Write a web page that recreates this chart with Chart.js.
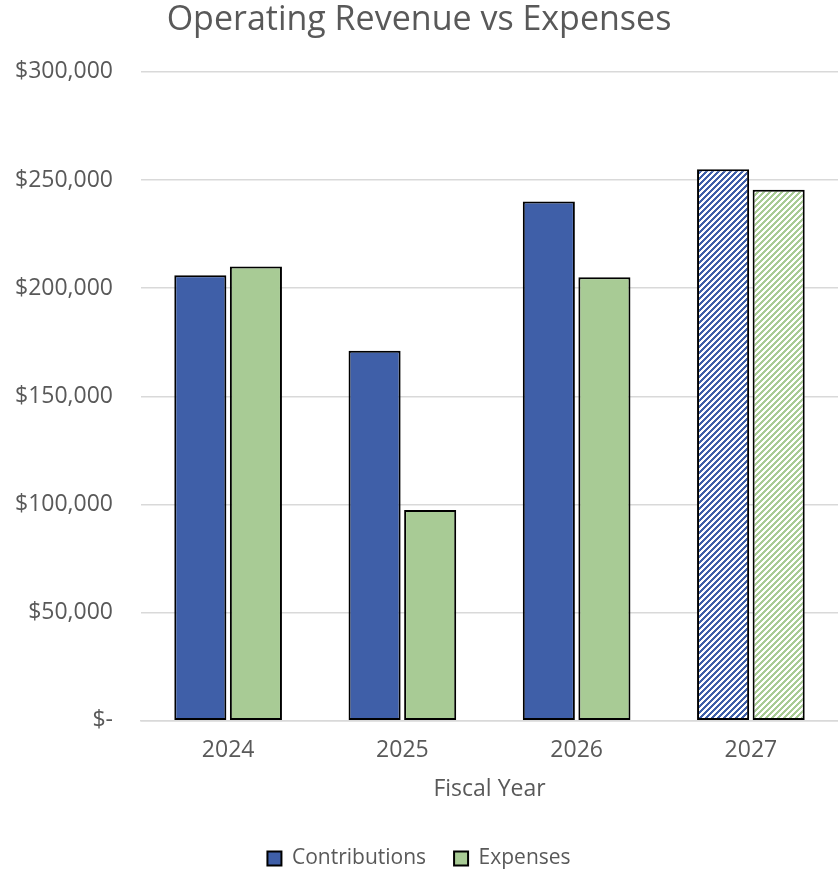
<!DOCTYPE html>
<html>
<head>
<meta charset="utf-8">
<script src="https://cdn.jsdelivr.net/npm/chart.js@4.4.1/dist/chart.umd.min.js"></script>
<style>
html,body{margin:0;padding:0;background:#fff;}
#wrap{width:838px;height:871px;position:relative;}
</style>
</head>
<body>
<div id="wrap"><canvas id="c"></canvas></div>
<script>
const categories = ["2024", "2025", "2026", "2027"];
const contributions = [206000, 171000, 240000, 255000];
const expenses = [210000, 97500, 205000, 245500];
const forecastIndex = 3;
const yTicks = [0, 50000, 100000, 150000, 200000, 250000, 300000];

const BLUE = "#3F5FA8";
const GREEN = "#A8CB95";

function hatch(color) {
  const c = document.createElement("canvas");
  c.width = 6; c.height = 6;
  const g = c.getContext("2d");
  g.fillStyle = "#fff";
  g.fillRect(0, 0, 6, 6);
  g.fillStyle = color;
  for (let x = 0; x < 6; x++) for (let y = 0; y < 6; y++) {
    if ((x + y) % 6 < 3) g.fillRect(x, y, 1, 1);
  }
  return g.createPattern(c, "repeat");
}

const blueFill = categories.map((_, i) => i === forecastIndex ? hatch(BLUE) : BLUE);
const greenFill = categories.map((_, i) => i === forecastIndex ? hatch(GREEN) : GREEN);

const FONT = "'Open Sans', 'Liberation Sans', sans-serif";
const GRAY = "#595959";

new Chart(document.getElementById("c"), {
  type: "bar",
  data: {
    labels: categories,
    datasets: [
      { label: "Contributions", data: contributions, backgroundColor: blueFill, borderColor: "#000", borderWidth: 2, borderSkipped: false,
        categoryPercentage: 0.638, barPercentage: 0.937 },
      { label: "Expenses", data: expenses, backgroundColor: greenFill, borderColor: "#000", borderWidth: 2, borderSkipped: false,
        categoryPercentage: 0.638, barPercentage: 0.937 }
    ]
  },
  options: {
    responsive: true,
    maintainAspectRatio: false,
    animation: false,
    layout: { padding: { top: 0, right: 0, bottom: 0, left: 0 } },
    plugins: {
      title: {
        display: true, text: "Operating Revenue vs Expenses",
        color: GRAY, font: { family: FONT, size: 34, weight: "normal" },
        padding: { top: 0, bottom: 31 }
      },
      legend: {
        position: "bottom",
        maxHeight: 51,
        labels: {
          color: GRAY, font: { family: FONT, size: 21 },
          boxWidth: 14, boxHeight: 14, padding: 28,
          generateLabels: (chart) => chart.data.datasets.map((ds, i) => ({
            text: ds.label,
            fillStyle: i === 0 ? BLUE : GREEN,
            strokeStyle: "#000",
            lineWidth: 2,
            fontColor: GRAY,
            hidden: false,
            datasetIndex: i
          }))
        }
      },
      tooltip: { enabled: false }
    },
    scales: {
      x: {
        grid: { display: false, drawTicks: false },
        border: { display: true, color: "#d9d9d9", width: 1.5 },
        ticks: { color: GRAY, font: { family: FONT, size: 23 }, padding: 16 },
        title: { display: true, text: "Fiscal Year", color: GRAY, font: { family: FONT, size: 23 }, padding: { top: -5, bottom: 17 } }
      },
      y: {
        min: 0, max: 300000,
        afterBuildTicks: (axis) => { axis.ticks = yTicks.map(v => ({ value: v })); },
        afterFit: (axis) => { axis.width = 141; },
        grid: { color: "#d9d9d9", lineWidth: 1.5, drawTicks: false },
        border: { display: false },
        ticks: {
          color: GRAY, font: { family: FONT, size: 23 }, padding: 28,
          callback: (v) => v === 0 ? "$-" : "$" + v.toLocaleString("en-US")
        }
      }
    }
  }
});
</script>
</body>
</html>
